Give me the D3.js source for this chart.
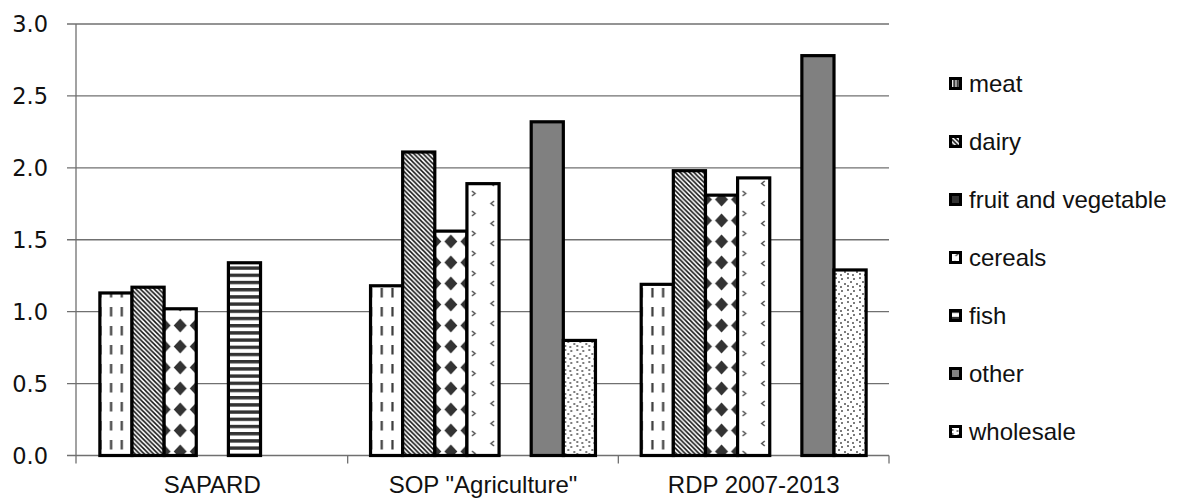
<!DOCTYPE html>
<html><head><meta charset="utf-8">
<script src="https://cdn.jsdelivr.net/npm/d3@7"></script>
<style>body{margin:0;background:#fff}svg{display:block}</style>
</head><body>
<svg id="c" width="1178" height="499"></svg>
<script>
const categories = ["SAPARD", "SOP \"Agriculture\"", "RDP 2007-2013"];
const seriesNames = ["meat", "dairy", "fruit and vegetable", "cereals", "fish", "other", "wholesale"];
const meat      = [1.13, 1.18, 1.19];
const dairy     = [1.17, 2.11, 1.98];
const fruitVeg  = [1.02, 1.56, 1.81];
const cereals   = [null, 1.89, 1.93];
const fish      = [1.34, null, null];
const other     = [null, 2.32, 2.78];
const wholesale = [null, 0.80, 1.29];
const yTicks = [0, 0.5, 1.0, 1.5, 2.0, 2.5, 3.0];

const seriesValues = [meat, dairy, fruitVeg, cereals, fish, other, wholesale];

const svg = d3.select("#c");
const defs = svg.append("defs");
const L = 77, R = 889, T = 24, B = 455.5;

const x0 = d3.scaleBand().domain(categories).range([L, R]).paddingInner(0.169).paddingOuter(0.0845);
const x1 = d3.scaleBand().domain(seriesNames).range([0, x0.bandwidth()]);
const y = d3.scaleLinear().domain([0, 3]).range([B, T]);
const bw = x1.bandwidth();

function makePattern(id, s, ox, w) {
  const p = defs.append("pattern").attr("id", id).attr("patternUnits", "userSpaceOnUse");
  if (s === 0) {
    const tw = w / 3;
    p.attr("x", ox).attr("y", 0).attr("width", tw).attr("height", 19);
    p.append("rect").attr("width", tw).attr("height", 19).attr("fill", "#fff");
    p.append("line").attr("x1", 0.5).attr("x2", 0.5).attr("y1", 3).attr("y2", 12.5).attr("stroke", "#3a3a3a").attr("stroke-width", 2.2);
    p.append("line").attr("x1", tw + 0.5).attr("x2", tw + 0.5).attr("y1", 3).attr("y2", 12.5).attr("stroke", "#3a3a3a").attr("stroke-width", 2.2);
  } else if (s === 1) {
    p.attr("x", ox).attr("y", 0).attr("width", 4.6).attr("height", 4.6);
    p.append("rect").attr("width", 4.6).attr("height", 4.6).attr("fill", "#fff");
    p.append("path").attr("d", "M0,0L4.6,4.6M-1,3.6L1,5.6M3.6,-1L5.6,1").attr("stroke", "#111").attr("stroke-width", 1.5);
  } else if (s === 2) {
    const tw = w / 2;
    p.attr("x", ox - tw / 2).attr("y", 0).attr("width", tw).attr("height", 21);
    p.append("rect").attr("width", tw).attr("height", 21).attr("fill", "#fff");
    const cx = tw / 2, cy = 10.5;
    p.append("path").attr("d", `M${cx},${cy-7}L${cx+6.5},${cy}L${cx},${cy+7}L${cx-6.5},${cy}Z`).attr("fill", "#333");
  } else if (s === 3) {
    p.attr("x", ox).attr("y", 0).attr("width", w).attr("height", 20);
    p.append("rect").attr("width", w).attr("height", 20).attr("fill", "#fff");
    p.append("path").attr("d", "M5,11l3,2.5l-3,2.5").attr("fill", "none").attr("stroke", "#555").attr("stroke-width", 1.6);
    p.append("path").attr("d", `M${w-5},1l-3,2.5l3,2.5`).attr("fill", "none").attr("stroke", "#555").attr("stroke-width", 1.6);
  } else if (s === 4) {
    p.attr("x", ox).attr("y", 0).attr("width", 10).attr("height", 7.2);
    p.append("rect").attr("width", 10).attr("height", 7.2).attr("fill", "#fff");
    p.append("rect").attr("y", 0).attr("width", 10).attr("height", 3.4).attr("fill", "#333");
  } else if (s === 6) {
    p.attr("x", ox).attr("y", 0).attr("width", 12).attr("height", 12);
    p.append("rect").attr("width", 12).attr("height", 12).attr("fill", "#fff");
    [[2,2],[8,3],[5,6],[11,8],[2,10],[7,11]].forEach(([a,b]) =>
      p.append("circle").attr("cx", a).attr("cy", b).attr("r", 0.95).attr("fill", "#444"));
  }
}
function fillFor(s, id) { return s === 5 ? "#808080" : `url(#${id})`; }

const grid = svg.append("g");
yTicks.forEach(t => {
  grid.append("line").attr("x1", L - 10).attr("x2", R).attr("y1", y(t)).attr("y2", y(t))
    .attr("stroke", "#707070").attr("stroke-width", 1.3);
  svg.append("text").attr("x", 48).attr("y", y(t)).attr("dy", "0.36em").attr("text-anchor", "end")
    .attr("font-family", "DejaVu Sans, Verdana, sans-serif").attr("font-size", 22.5).attr("fill", "#111")
    .text(d3.format(".1f")(t));
});
svg.append("line").attr("x1", L - 1).attr("x2", L - 1).attr("y1", T).attr("y2", B + 8).attr("stroke", "#707070").attr("stroke-width", 1.3);
[...categories.slice(1).map(c => x0(c) - x0.step() * x0.paddingInner() / 2), R].forEach(xx => {
  svg.append("line").attr("x1", xx).attr("x2", xx).attr("y1", B).attr("y2", B + 8).attr("stroke", "#707070").attr("stroke-width", 1.3);
});

const bars = svg.append("g");
categories.forEach((c, gi) => {
  seriesNames.forEach((s, si) => {
    const v = seriesValues[si][gi];
    if (v == null) return;
    const bx = x0(c) + x1(s);
    const id = `p${gi}_${si}`;
    if (si !== 5) makePattern(id, si, bx, bw);
    bars.append("rect").attr("x", bx).attr("y", y(v)).attr("width", bw).attr("height", y(0) - y(v))
      .attr("fill", fillFor(si, id)).attr("stroke", "#000").attr("stroke-width", 3.2);
  });
});

categories.forEach(c => {
  svg.append("text").attr("x", x0(c) + x0.bandwidth() / 2).attr("y", 493).attr("text-anchor", "middle")
    .attr("font-family", "Liberation Sans, Arial, sans-serif").attr("font-size", 24).attr("fill", "#111").text(c);
});

const leg = svg.append("g");
seriesNames.forEach((s, si) => {
  const base = 92 + si * 58;
  const sx = 950.5, sy = base - 13.5;
  const id = `lg${si}`;
  if (si !== 5) makePattern(id, si, sx, 10);
  leg.append("rect").attr("x", sx).attr("y", sy).attr("width", 10).attr("height", 10)
    .attr("fill", fillFor(si, id)).attr("stroke", "#000").attr("stroke-width", 3);
  leg.append("text").attr("x", 969).attr("y", base)
    .attr("font-family", "Liberation Sans, Arial, sans-serif").attr("font-size", 24).attr("fill", "#111").text(s);
});
</script>
</body></html>
